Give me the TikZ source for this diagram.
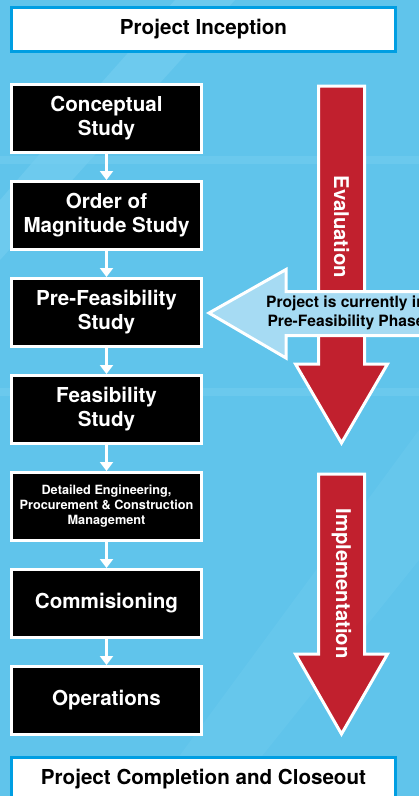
\documentclass[tikz,border=0pt]{standalone}
\usepackage{fontspec}
\setmainfont{TeX Gyre Heros}
\usepackage{tikz}
\usetikzlibrary{arrows.meta,positioning}
\definecolor{skyblue}{RGB}{96,196,235}
\definecolor{paleband}{RGB}{118,206,240}
\definecolor{bannerblue}{RGB}{0,158,226}
\definecolor{phasered}{RGB}{193,32,46}
\definecolor{calloutblue}{RGB}{166,219,243}

\begin{document}
\begin{tikzpicture}[x=1pt,y=1pt,node distance=97pt,
	stage/.style={draw=white,line width=3pt,fill=black,text=white,minimum width=190pt,minimum height=68pt,inner sep=0pt,align=center,font=\bfseries\fontsize{20.6}{24}\selectfont},
	banner/.style={draw=bannerblue,line width=3pt,fill=white,minimum width=384pt,minimum height=44pt,inner sep=0pt,font=\bfseries\fontsize{20.6}{24}\selectfont},
	flow/.style={white,line width=2.5pt,-{Triangle[width=13pt,length=9pt]}},
	phase/.style={fill=phasered,draw=white,line width=3pt,line join=miter},
	vlabel/.style={rotate=-90,text=white,font=\bfseries\fontsize{20.3}{24}\selectfont}]
	\useasboundingbox (0,0) rectangle (419,-796);
	\clip (0,0) rectangle (419,-796);
	% background
	\fill[skyblue] (0,0) rectangle (419,-796);
	\fill[paleband,opacity=0.6] (95,-90) -- (175,0) -- (235,0) -- (0,-260) -- (0,-200) -- cycle;
	\fill[paleband,opacity=0.5] (0,-156) rectangle (419,-164);
	\fill[paleband,opacity=0.5] (0,-388) rectangle (419,-396);
	\fill[paleband,opacity=0.3] (419,-430) -- (419,-560) -- (230,-796) -- (150,-796) -- cycle;

	\node[banner] (start) at (203.5,-29.5) {Project Inception};
	\node[banner] (close) at (203.5,-779.5) {Project Completion and Closeout};

	\node[stage] (concept) at (106.5,-118.5) {Conceptual\\Study};
	\node[stage] (oom) [below of = concept] {Order of\\Magnitude Study};
	\node[stage] (prefeas) [below of = oom] {Pre-Feasibility\\Study};
	\node[stage] (feas) [below of = prefeas] {Feasibility\\Study};
	\node[stage,font=\bfseries\fontsize{12.7}{15}\selectfont] (epcm) [below of = feas] {Detailed Engineering,\\Procurement \& Construction\\Management};
	\node[stage] (comm) [below of = epcm] {Commisioning};
	\node[stage] (ops) [below of = comm] {Operations};

	\draw[flow] (concept) -- (oom);
	\draw[flow] (oom) -- (prefeas);
	\draw[flow] (prefeas) -- (feas);
	\draw[flow] (feas) -- (epcm);
	\draw[flow] (epcm) -- (comm);
	\draw[flow] (comm) -- (ops);

	% phase arrows
	\draw[phase] (318.5,-86) -- (364.5,-86) -- (364.5,-364) -- (387.5,-364) -- (341.5,-443) -- (295.5,-364) -- (318.5,-364) -- cycle;
	\node[vlabel] (eval) at (341.5,-227) {Evaluation};
	\draw[phase] (318.5,-474) -- (364.5,-474) -- (364.5,-654) -- (387.5,-654) -- (341.5,-734) -- (295.5,-654) -- (318.5,-654) -- cycle;
	\node[vlabel] (impl) at (341.5,-583.5) {Implementation};

	% current phase marker
	\draw[fill=calloutblue,draw=white,line width=3pt,line join=miter] (430,-291.5) -- (286,-291.5) -- (286,-269.5) -- (209,-313) -- (286,-358) -- (286,-335.5) -- (430,-335.5) -- cycle;
	\node[align=center,font=\bfseries\fontsize{15.6}{19}\selectfont] (now) at (346,-313) {Project is currently in\\Pre-Feasibility Phase};
\end{tikzpicture}
\end{document}
